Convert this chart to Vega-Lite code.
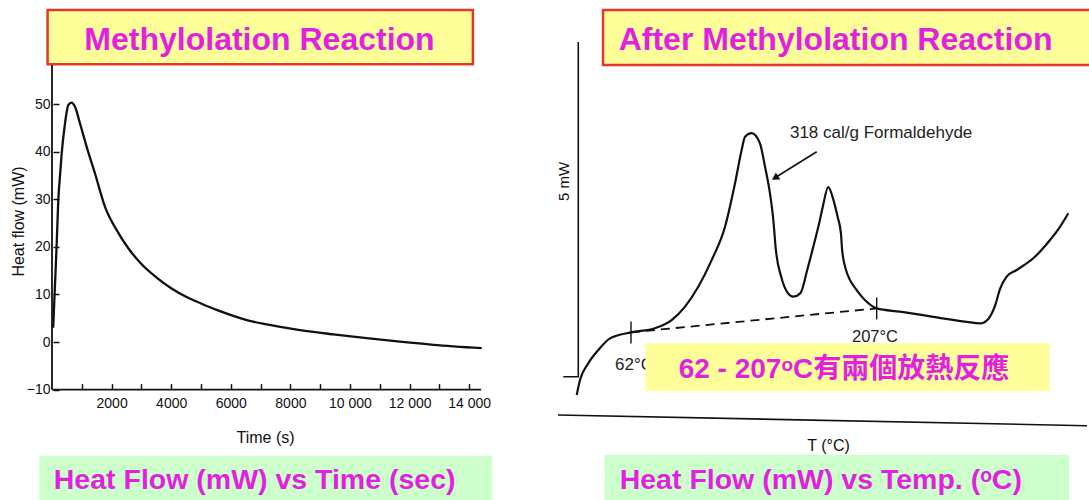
{
  "$schema": "https://vega.github.io/schema/vega-lite/v6.json",
  "padding": 0,
  "spacing": 0,
  "background": "white",
  "config": {"view": {"stroke": null}, "axis": {"grid": false, "domain": false, "titleFont": "Liberation Sans", "labelFont": "Liberation Sans", "titleFontWeight": "normal"}},
  "datasets": {
    "leftTitleBox": [{"t_start": -148, "t_end": 14124, "hf_bottom": 58.34, "hf_top": 69.75}],
    "leftBottomBox": [{"t_start": -430, "t_end": 14779, "hf_bottom": -33.5, "hf_top": -23.9}],
    "leftAxisLines": [
      {"t_start": 0, "hf_start": -10, "t_end": 0, "hf_end": 58.2},
      {"t_start": 0, "hf_start": -10, "t_end": 14400, "hf_end": -10}
    ],
    "leftCurve": [
      {"time_s": 40, "heat_flow_mW": 3},
      {"time_s": 100, "heat_flow_mW": 12},
      {"time_s": 160, "heat_flow_mW": 21},
      {"time_s": 211, "heat_flow_mW": 29.8},
      {"time_s": 270, "heat_flow_mW": 35},
      {"time_s": 325, "heat_flow_mW": 39.6},
      {"time_s": 436, "heat_flow_mW": 45.9},
      {"time_s": 547, "heat_flow_mW": 49.8},
      {"time_s": 661, "heat_flow_mW": 50.3},
      {"time_s": 772, "heat_flow_mW": 49.4},
      {"time_s": 940, "heat_flow_mW": 45.9},
      {"time_s": 1164, "heat_flow_mW": 41.0},
      {"time_s": 1443, "heat_flow_mW": 35.4},
      {"time_s": 1779, "heat_flow_mW": 28.4},
      {"time_s": 2171, "heat_flow_mW": 23.5},
      {"time_s": 2560, "heat_flow_mW": 19.7},
      {"time_s": 3000, "heat_flow_mW": 16.4},
      {"time_s": 3500, "heat_flow_mW": 13.6},
      {"time_s": 4000, "heat_flow_mW": 11.3},
      {"time_s": 4500, "heat_flow_mW": 9.5},
      {"time_s": 5000, "heat_flow_mW": 8.1},
      {"time_s": 5500, "heat_flow_mW": 6.8},
      {"time_s": 6085, "heat_flow_mW": 5.5},
      {"time_s": 6600, "heat_flow_mW": 4.5},
      {"time_s": 7205, "heat_flow_mW": 3.7},
      {"time_s": 8322, "heat_flow_mW": 2.5},
      {"time_s": 9440, "heat_flow_mW": 1.6},
      {"time_s": 10560, "heat_flow_mW": 0.8},
      {"time_s": 11678, "heat_flow_mW": 0.06},
      {"time_s": 12795, "heat_flow_mW": -0.6},
      {"time_s": 14420, "heat_flow_mW": -1.3}
    ],
    "leftTitleText": [{"t": 6963, "hf": 61.34, "label": "Methylolation Reaction"}],
    "leftBottomText": [{"t": 60, "hf": -30.95, "label": "Heat Flow (mW) vs Time (sec)"}],
    "rightTitleBox": [{"T_start": 45.5, "T_end": 334, "hf_bottom": 10.83, "hf_top": 12.67}],
    "rightBottomBox": [{"T_start": 46.5, "T_end": 320.7, "hf_bottom": -3.8, "hf_top": -2.167}],
    "annotBox": [{"T_start": 70.56, "T_end": 309.1, "hf_bottom": -0.033, "hf_top": 1.557}],
    "rightFrame": [
      {"segment": "scale", "seq": 1, "T": 22.05, "hf": 0.443},
      {"segment": "scale", "seq": 2, "T": 30.9, "hf": 0.443},
      {"segment": "scale", "seq": 3, "T": 30.9, "hf": 11.6},
      {"segment": "baseline", "seq": 1, "T": 18.9, "hf": -0.833},
      {"segment": "baseline", "seq": 2, "T": 331.1, "hf": -1.19}
    ],
    "rightCurve": [
      {"temp_C": 29.96, "heat_flow": -0.17},
      {"temp_C": 31.9, "heat_flow": 0.33},
      {"temp_C": 36.8, "heat_flow": 0.89},
      {"temp_C": 42.7, "heat_flow": 1.33},
      {"temp_C": 49.6, "heat_flow": 1.72},
      {"temp_C": 62, "heat_flow": 1.92},
      {"temp_C": 76.2, "heat_flow": 2.06},
      {"temp_C": 86.0, "heat_flow": 2.33},
      {"temp_C": 93.9, "heat_flow": 2.78},
      {"temp_C": 101.7, "heat_flow": 3.44},
      {"temp_C": 109.6, "heat_flow": 4.33},
      {"temp_C": 117.5, "heat_flow": 5.44},
      {"temp_C": 123.4, "heat_flow": 6.89},
      {"temp_C": 127.3, "heat_flow": 8.0},
      {"temp_C": 129.3, "heat_flow": 8.44},
      {"temp_C": 133.2, "heat_flow": 8.56},
      {"temp_C": 138.1, "heat_flow": 8.22},
      {"temp_C": 141.1, "heat_flow": 7.44},
      {"temp_C": 144.0, "heat_flow": 6.56},
      {"temp_C": 146.0, "heat_flow": 5.67},
      {"temp_C": 147.5, "heat_flow": 4.67},
      {"temp_C": 150.6, "heat_flow": 3.78},
      {"temp_C": 154.7, "heat_flow": 3.22},
      {"temp_C": 157.8, "heat_flow": 3.11},
      {"temp_C": 161.9, "heat_flow": 3.22},
      {"temp_C": 166.0, "heat_flow": 4.0},
      {"temp_C": 169.1, "heat_flow": 4.67},
      {"temp_C": 173.5, "heat_flow": 5.67},
      {"temp_C": 175.2, "heat_flow": 6.11},
      {"temp_C": 178.4, "heat_flow": 6.76},
      {"temp_C": 181.5, "heat_flow": 6.33},
      {"temp_C": 183.9, "heat_flow": 5.78},
      {"temp_C": 185.9, "heat_flow": 5.22},
      {"temp_C": 186.6, "heat_flow": 4.67},
      {"temp_C": 188.9, "heat_flow": 4.0},
      {"temp_C": 191.2, "heat_flow": 3.67},
      {"temp_C": 195.2, "heat_flow": 3.33},
      {"temp_C": 201.1, "heat_flow": 2.94},
      {"temp_C": 207, "heat_flow": 2.72},
      {"temp_C": 220.8, "heat_flow": 2.61},
      {"temp_C": 240.4, "heat_flow": 2.44},
      {"temp_C": 260.1, "heat_flow": 2.27},
      {"temp_C": 268.0, "heat_flow": 2.22},
      {"temp_C": 272.9, "heat_flow": 2.37},
      {"temp_C": 276.8, "heat_flow": 2.8},
      {"temp_C": 279.8, "heat_flow": 3.37},
      {"temp_C": 283.7, "heat_flow": 3.78},
      {"temp_C": 289.6, "heat_flow": 4.0},
      {"temp_C": 299.4, "heat_flow": 4.39},
      {"temp_C": 309.3, "heat_flow": 5.0},
      {"temp_C": 315.2, "heat_flow": 5.44},
      {"temp_C": 320.1, "heat_flow": 5.89}
    ],
    "dsBaseline": [
      {"temp_C": 62, "heat_flow": 1.92},
      {"temp_C": 207, "heat_flow": 2.72}
    ],
    "crossMarks": [
      {"temp_C": 62, "heat_flow": 1.92},
      {"temp_C": 207, "heat_flow": 2.72}
    ],
    "arrowLine": [{"T_start": 171.6, "hf_start": 7.94, "T_end": 146.5, "hf_end": 7.06}],
    "arrowHead": [{"temp_C": 147.0, "heat_flow": 7.07}],
    "smallLabels": [
      {"temp_C": 155.8, "heat_flow": 8.56, "label": "318 cal/g Formaldehyde"},
      {"temp_C": 52.56, "heat_flow": 0.833, "label": "62°C"}
    ],
    "label207": [{"temp_C": 206.0, "heat_flow": 1.757, "label": "207°C"}],
    "rightTitleText": [{"temp_C": 54.74, "heat_flow": 11.33, "label": "After Methylolation Reaction"}],
    "annotText": [{"temp_C": 90.15, "heat_flow": 0.39, "label": "62 - 207ᵒC有兩個放熱反應"}],
    "rightBottomText": [{"temp_C": 55.33, "heat_flow": -3.31, "label": "Heat Flow (mW) vs Temp. (ᵒC)"}]
  },
  "hconcat": [
    {
      "width": 545,
      "height": 500,
      "layer": [
        {
          "data": {"name": "leftCurve"},
          "mark": {"type": "line", "color": "#111", "strokeWidth": 2.3, "interpolate": "monotone"},
          "encoding": {
            "x": {"field": "time_s", "type": "quantitative", "scale": {"domain": [-1745, 16544], "nice": false, "zero": false},
              "axis": {"title": "Time (s)", "values": [1000, 2000, 3000, 4000, 5000, 6000, 7000, 8000, 9000, 10000, 11000, 12000, 13000, 14000],
                "domain": false, "grid": false, "ticks": true, "tickSize": -6, "tickWidth": 1.5, "tickColor": "#111",
                "labelExpr": "datum.value % 2000 == 0 ? (datum.value >= 10000 ? format(floor(datum.value / 1000), 'd') + ' 000' : format(datum.value, 'd')) : ''",
                "labelFont": "Liberation Sans", "labelFontSize": 14, "labelColor": "#111", "labelPadding": 13,
                "labelOverlap": false, "labelFlush": false, "offset": -110.4,
                "titleFont": "Liberation Sans", "titleFontWeight": "normal", "titleFontSize": 16, "titleColor": "#111",
                "titleX": 265, "titleY": 48, "titleAlign": "center", "titleBaseline": "middle"}},
            "y": {"field": "heat_flow_mW", "type": "quantitative", "scale": {"domain": [-33.19, 71.85], "nice": false, "zero": false},
              "axis": {"title": "Heat flow (mW)", "values": [-10, 0, 10, 20, 30, 40, 50], "format": "d",
                "domain": false, "grid": false, "ticks": true, "tickSize": -6, "tickWidth": 1.5, "tickColor": "#111",
                "labelFont": "Liberation Sans", "labelFontSize": 14, "labelColor": "#111", "labelPadding": 9,
                "labelOverlap": false, "labelFlush": false, "offset": -53,
                "titleFont": "Liberation Sans", "titleFontWeight": "normal", "titleFontSize": 16, "titleColor": "#111",
                "titleX": -35, "titleY": 221, "titleAngle": -90, "titleAlign": "center", "titleBaseline": "middle"}}
          }
        },
        {
          "data": {"name": "leftTitleBox"},
          "mark": {"type": "rect", "fill": "#ffff99", "stroke": "#e0392b", "strokeWidth": 2.5},
          "encoding": {
            "x": {"field": "t_start", "type": "quantitative", "scale": {"domain": [-1745, 16544], "nice": false, "zero": false}},
            "x2": {"field": "t_end"},
            "y": {"field": "hf_bottom", "type": "quantitative", "scale": {"domain": [-33.19, 71.85], "nice": false, "zero": false}},
            "y2": {"field": "hf_top"}
          }
        },
        {
          "data": {"name": "leftBottomBox"},
          "mark": {"type": "rect", "fill": "#ccffcc", "clip": true},
          "encoding": {
            "x": {"field": "t_start", "type": "quantitative", "scale": {"domain": [-1745, 16544], "nice": false, "zero": false}},
            "x2": {"field": "t_end"},
            "y": {"field": "hf_bottom", "type": "quantitative", "scale": {"domain": [-33.19, 71.85], "nice": false, "zero": false}},
            "y2": {"field": "hf_top"}
          }
        },
        {
          "data": {"name": "leftAxisLines"},
          "mark": {"type": "rule", "color": "#111", "strokeWidth": 1.8},
          "encoding": {
            "x": {"field": "t_start", "type": "quantitative", "scale": {"domain": [-1745, 16544], "nice": false, "zero": false}},
            "x2": {"field": "t_end"},
            "y": {"field": "hf_start", "type": "quantitative", "scale": {"domain": [-33.19, 71.85], "nice": false, "zero": false}},
            "y2": {"field": "hf_end"}
          }
        },
        {
          "data": {"name": "leftTitleText"},
          "mark": {"type": "text", "font": "Liberation Sans", "fontWeight": "bold", "fontSize": 32, "color": "#e31fe0", "align": "center", "baseline": "alphabetic"},
          "encoding": {
            "x": {"field": "t", "type": "quantitative", "scale": {"domain": [-1745, 16544], "nice": false, "zero": false}},
            "y": {"field": "hf", "type": "quantitative", "scale": {"domain": [-33.19, 71.85], "nice": false, "zero": false}},
            "text": {"field": "label"}
          }
        },
        {
          "data": {"name": "leftBottomText"},
          "mark": {"type": "text", "font": "Liberation Sans", "fontWeight": "bold", "fontSize": 28.5, "color": "#e31fe0", "align": "left", "baseline": "alphabetic"},
          "encoding": {
            "x": {"field": "t", "type": "quantitative", "scale": {"domain": [-1745, 16544], "nice": false, "zero": false}},
            "y": {"field": "hf", "type": "quantitative", "scale": {"domain": [-33.19, 71.85], "nice": false, "zero": false}},
            "text": {"field": "label"}
          }
        }
      ]
    },
    {
      "width": 544,
      "height": 500,
      "layer": [
        {
          "data": {"name": "rightCurve"},
          "mark": {"type": "line", "color": "#111", "strokeWidth": 2.2, "interpolate": "monotone"},
          "encoding": {
            "x": {"field": "temp_C", "type": "quantitative", "scale": {"domain": [11.25, 332.3], "nice": false, "zero": false},
              "axis": {"title": "T (°C)", "domain": false, "grid": false, "ticks": false, "labels": false, "offset": -75,
                "titleFont": "Liberation Sans", "titleFontWeight": "normal", "titleFontSize": 16, "titleColor": "#111",
                "titleX": 283, "titleY": 20, "titleAlign": "center", "titleBaseline": "middle"}},
            "y": {"field": "heat_flow", "type": "quantitative", "scale": {"domain": [-3.667, 13], "nice": false, "zero": false},
              "axis": {"title": "5 mW", "domain": false, "grid": false, "ticks": false, "labels": false, "offset": -33.3,
                "titleFont": "Liberation Sans", "titleFontWeight": "normal", "titleFontSize": 15, "titleColor": "#111",
                "titleX": -15, "titleY": 181, "titleAngle": -90, "titleAlign": "center", "titleBaseline": "middle"}}
          }
        },
        {
          "data": {"name": "rightTitleBox"},
          "mark": {"type": "rect", "fill": "#ffff99", "stroke": "#e0392b", "strokeWidth": 2.5, "clip": true},
          "encoding": {
            "x": {"field": "T_start", "type": "quantitative", "scale": {"domain": [11.25, 332.3], "nice": false, "zero": false}},
            "x2": {"field": "T_end"},
            "y": {"field": "hf_bottom", "type": "quantitative", "scale": {"domain": [-3.667, 13], "nice": false, "zero": false}},
            "y2": {"field": "hf_top"}
          }
        },
        {
          "data": {"name": "rightBottomBox"},
          "mark": {"type": "rect", "fill": "#ccffcc", "clip": true},
          "encoding": {
            "x": {"field": "T_start", "type": "quantitative", "scale": {"domain": [11.25, 332.3], "nice": false, "zero": false}},
            "x2": {"field": "T_end"},
            "y": {"field": "hf_bottom", "type": "quantitative", "scale": {"domain": [-3.667, 13], "nice": false, "zero": false}},
            "y2": {"field": "hf_top"}
          }
        },
        {
          "data": {"name": "rightFrame"},
          "mark": {"type": "line", "color": "#111", "strokeWidth": 1.6},
          "encoding": {
            "x": {"field": "T", "type": "quantitative", "scale": {"domain": [11.25, 332.3], "nice": false, "zero": false}},
            "y": {"field": "hf", "type": "quantitative", "scale": {"domain": [-3.667, 13], "nice": false, "zero": false}},
            "detail": {"field": "segment"},
            "order": {"field": "seq"}
          }
        },
        {
          "data": {"name": "dsBaseline"},
          "mark": {"type": "line", "color": "#111", "strokeWidth": 1.8, "strokeDash": [9, 6]},
          "encoding": {
            "x": {"field": "temp_C", "type": "quantitative", "scale": {"domain": [11.25, 332.3], "nice": false, "zero": false}},
            "y": {"field": "heat_flow", "type": "quantitative", "scale": {"domain": [-3.667, 13], "nice": false, "zero": false}}
          }
        },
        {
          "data": {"name": "crossMarks"},
          "mark": {"type": "point", "shape": "M0,-1L0,1", "size": 484, "filled": false, "stroke": "#111", "strokeWidth": 1.4, "opacity": 1},
          "encoding": {
            "x": {"field": "temp_C", "type": "quantitative", "scale": {"domain": [11.25, 332.3], "nice": false, "zero": false}},
            "y": {"field": "heat_flow", "type": "quantitative", "scale": {"domain": [-3.667, 13], "nice": false, "zero": false}}
          }
        },
        {
          "data": {"name": "arrowLine"},
          "mark": {"type": "rule", "color": "#111", "strokeWidth": 1.6},
          "encoding": {
            "x": {"field": "T_start", "type": "quantitative", "scale": {"domain": [11.25, 332.3], "nice": false, "zero": false}},
            "x2": {"field": "T_end"},
            "y": {"field": "hf_start", "type": "quantitative", "scale": {"domain": [-3.667, 13], "nice": false, "zero": false}},
            "y2": {"field": "hf_end"}
          }
        },
        {
          "data": {"name": "arrowHead"},
          "mark": {"type": "point", "shape": "triangle-right", "size": 70, "filled": true, "color": "#111", "angle": 148, "opacity": 1},
          "encoding": {
            "x": {"field": "temp_C", "type": "quantitative", "scale": {"domain": [11.25, 332.3], "nice": false, "zero": false}},
            "y": {"field": "heat_flow", "type": "quantitative", "scale": {"domain": [-3.667, 13], "nice": false, "zero": false}}
          }
        },
        {
          "data": {"name": "smallLabels"},
          "mark": {"type": "text", "font": "Liberation Sans", "fontSize": 17, "color": "#222", "align": "left", "baseline": "middle"},
          "encoding": {
            "x": {"field": "temp_C", "type": "quantitative", "scale": {"domain": [11.25, 332.3], "nice": false, "zero": false}},
            "y": {"field": "heat_flow", "type": "quantitative", "scale": {"domain": [-3.667, 13], "nice": false, "zero": false}},
            "text": {"field": "label"}
          }
        },
        {
          "data": {"name": "label207"},
          "mark": {"type": "text", "font": "Liberation Sans", "fontSize": 16.5, "color": "#222", "align": "center", "baseline": "middle"},
          "encoding": {
            "x": {"field": "temp_C", "type": "quantitative", "scale": {"domain": [11.25, 332.3], "nice": false, "zero": false}},
            "y": {"field": "heat_flow", "type": "quantitative", "scale": {"domain": [-3.667, 13], "nice": false, "zero": false}},
            "text": {"field": "label"}
          }
        },
        {
          "data": {"name": "annotBox"},
          "mark": {"type": "rect", "fill": "#ffff99"},
          "encoding": {
            "x": {"field": "T_start", "type": "quantitative", "scale": {"domain": [11.25, 332.3], "nice": false, "zero": false}},
            "x2": {"field": "T_end"},
            "y": {"field": "hf_bottom", "type": "quantitative", "scale": {"domain": [-3.667, 13], "nice": false, "zero": false}},
            "y2": {"field": "hf_top"}
          }
        },
        {
          "data": {"name": "rightTitleText"},
          "mark": {"type": "text", "font": "Liberation Sans", "fontWeight": "bold", "fontSize": 32, "color": "#e31fe0", "align": "left", "baseline": "alphabetic"},
          "encoding": {
            "x": {"field": "temp_C", "type": "quantitative", "scale": {"domain": [11.25, 332.3], "nice": false, "zero": false}},
            "y": {"field": "heat_flow", "type": "quantitative", "scale": {"domain": [-3.667, 13], "nice": false, "zero": false}},
            "text": {"field": "label"}
          }
        },
        {
          "data": {"name": "annotText"},
          "mark": {"type": "text", "font": "Liberation Sans, Noto Sans CJK TC", "fontWeight": "bold", "fontSize": 28, "color": "#e31fe0", "align": "left", "baseline": "alphabetic"},
          "encoding": {
            "x": {"field": "temp_C", "type": "quantitative", "scale": {"domain": [11.25, 332.3], "nice": false, "zero": false}},
            "y": {"field": "heat_flow", "type": "quantitative", "scale": {"domain": [-3.667, 13], "nice": false, "zero": false}},
            "text": {"field": "label"}
          }
        },
        {
          "data": {"name": "rightBottomText"},
          "mark": {"type": "text", "font": "Liberation Sans", "fontWeight": "bold", "fontSize": 28.5, "color": "#e31fe0", "align": "left", "baseline": "alphabetic"},
          "encoding": {
            "x": {"field": "temp_C", "type": "quantitative", "scale": {"domain": [11.25, 332.3], "nice": false, "zero": false}},
            "y": {"field": "heat_flow", "type": "quantitative", "scale": {"domain": [-3.667, 13], "nice": false, "zero": false}},
            "text": {"field": "label"}
          }
        }
      ]
    }
  ]
}
